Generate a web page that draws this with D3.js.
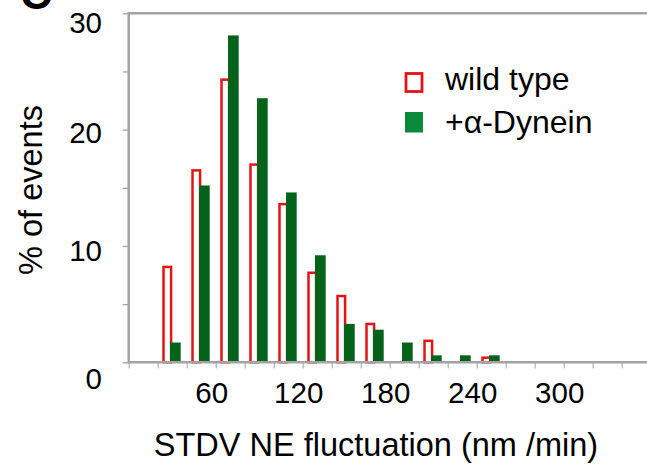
<!DOCTYPE html>
<html><head><meta charset="utf-8">
<script src="https://cdn.jsdelivr.net/npm/d3@7"></script>
<style>html,body{margin:0;padding:0;background:#fff;}svg{display:block;font-family:"Liberation Sans",Arial,sans-serif;}</style>
</head><body>
<svg id="c" width="647" height="465"></svg>
<script>
const binCenters = [30, 50, 70, 90, 110, 130, 150, 170, 190, 210, 230, 250];
const wildType   = [8.3, 16.6, 24.4, 17.1, 13.7, 7.8, 5.8, 3.4, 0, 1.95, 0, 0.5];
const dynein     = [1.7, 15.2, 28.1, 22.7, 14.6, 9.2, 3.3, 2.8, 1.7, 0.6, 0.6, 0.6];
const xTickLabels = [60, 120, 180, 240, 300];
const yTickLabels = [0, 10, 20, 30];
const seriesNames = ["wild type", "+\u03B1-Dynein"];

const svg = d3.select("#c");
const x = d3.scaleLinear().domain([0, 360]).range([128.7, 650.7]);
const y = d3.scaleLinear().domain([0, 30]).range([362.3, 13.3]);
const yLab = d3.scaleLinear().domain([0, 10, 20, 30]).range([389, 261, 143, 33]);
const axisCol = "#a3a3a3";

// panel letter (cropped at the top, as in the source figure)
svg.append("text").attr("x", 20).attr("y", 9).attr("font-size", 44).attr("font-weight", "bold").text("C");

// top frame line
svg.append("line").attr("x1", x(0)).attr("x2", 647).attr("y1", y(30)).attr("y2", y(30))
  .attr("stroke", axisCol).attr("stroke-width", 2.5);

// x axis ticks
const xt = svg.append("g").attr("transform", `translate(0,${y(0)})`)
  .call(d3.axisBottom(x).tickValues(d3.range(0, 361, 20)).tickSize(6).tickFormat(""));
xt.select(".domain").remove();
xt.selectAll(".tick line").attr("stroke", axisCol).attr("stroke-width", 1);

// y axis ticks
const yt = svg.append("g").attr("transform", `translate(${x(0)},0)`)
  .call(d3.axisLeft(y).tickValues(d3.range(0, 31, 5)).tickSize(6).tickFormat(""));
yt.select(".domain").remove();
yt.selectAll(".tick line").attr("stroke", axisCol).attr("stroke-width", 1.3);

// bars
const data = binCenters.map((c, i) => ({c, w: wildType[i], d: dynein[i]}));
svg.append("g").selectAll("rect").data(data.filter(d => d.w > 0)).join("rect")
  .attr("x", d => x(d.c) - 8.7).attr("width", 7.6)
  .attr("y", d => y(d.w) + 1.2).attr("height", d => y(0) - y(d.w) - 1.2)
  .attr("fill", "#fff").attr("stroke", "#e31414").attr("stroke-width", 2.5);
svg.append("g").selectAll("rect").data(data.filter(d => d.d > 0)).join("rect")
  .attr("x", d => x(d.c) - 2.2).attr("width", 10.7)
  .attr("y", d => y(d.d)).attr("height", d => y(0) - y(d.d))
  .attr("fill", "#04631a");

// axis lines
svg.append("line").attr("x1", x(0)).attr("x2", 647).attr("y1", y(0)).attr("y2", y(0))
  .attr("stroke", axisCol).attr("stroke-width", 2.5);
svg.append("line").attr("x1", x(0)).attr("x2", x(0)).attr("y1", y(30) - 1.2).attr("y2", y(0) + 1.2)
  .attr("stroke", axisCol).attr("stroke-width", 2.5);

// tick labels
svg.append("g").selectAll("text").data(yTickLabels).join("text")
  .attr("x", 102).attr("y", d => yLab(d)).attr("text-anchor", "end")
  .attr("font-size", 29.5).text(d => d);
svg.append("g").selectAll("text").data(xTickLabels).join("text")
  .attr("x", d => x(d) - 4).attr("y", 403).attr("text-anchor", "middle")
  .attr("font-size", 29.5).text(d => d);

// axis titles
svg.append("text").attr("x", 376).attr("y", 456).attr("text-anchor", "middle")
  .attr("font-size", 32.5).text("STDV NE fluctuation (nm /min)");
svg.append("text").attr("transform", "translate(42,190) rotate(-90)").attr("text-anchor", "middle")
  .attr("font-size", 32.5).text("% of events");

// legend
const lg = svg.append("g");
lg.append("rect").attr("x", 406).attr("y", 73.5).attr("width", 16).attr("height", 18)
  .attr("fill", "#fff").attr("stroke", "#e31414").attr("stroke-width", 2.8);
lg.append("rect").attr("x", 405).attr("y", 112).attr("width", 18).attr("height", 20.5)
  .attr("fill", "#0a8a3c");
lg.selectAll("text.l").data(seriesNames).join("text").attr("class", "l")
  .attr("x", 445).attr("y", (d, i) => 90 + i * 43).attr("font-size", 32).text(d => d);
</script>
</body></html>
